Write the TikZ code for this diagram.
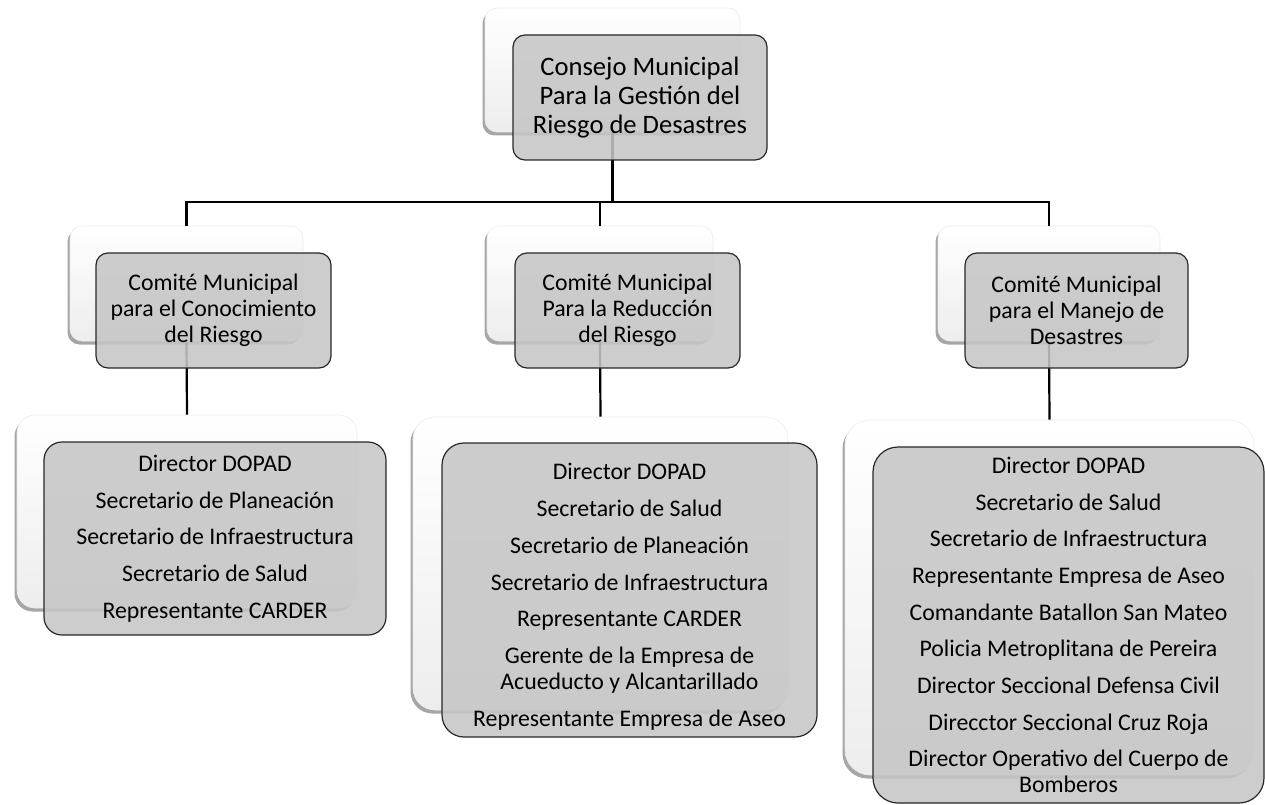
\documentclass[tikz,border=0pt]{standalone}
\usepackage{fontspec}
\setmainfont{Carlito}
\usetikzlibrary{shadows}
\definecolor{boxgray}{RGB}{198,198,198}
\definecolor{edgegray}{RGB}{40,40,40}
\tikzset{
  backbox/.style={shape=rectangle, inner sep=0pt, top color=white, bottom color=black!7,
    draw=black!8, line width=0.6pt,
    drop shadow={shadow xshift=-2.5pt, shadow yshift=-3.5pt, opacity=0.35, fill=black}},
  frontbox/.style={shape=rectangle, inner sep=0pt, fill=boxgray, fill opacity=0.88,
    text opacity=1, draw=edgegray, line width=1.2pt, align=center},
  conn/.style={line width=2.2pt, black},
  headtext/.style={font=\fontsize{26.6}{29}\selectfont},
  comtext/.style={font=\fontsize{23.8}{26}\selectfont},
  listtext/.style={font=\fontsize{23.8}{26}\selectfont},
}
\newcommand{\pgap}{\\[10.7pt]}
\begin{document}
\begin{tikzpicture}[x=1pt, y=-1pt]
\useasboundingbox (0,0) rectangle (1265,805);
\clip (0,0) rectangle (1265,805);

% back cards
\node[backbox, rounded corners=12pt, minimum width=255pt, minimum height=124pt] (tb) at (612.5,70) {};
\node[backbox, rounded corners=12pt, minimum width=233pt, minimum height=115pt] (c1b) at (186.5,283.5) {};
\node[backbox, rounded corners=12pt, minimum width=226pt, minimum height=115pt] (c2b) at (600,283.5) {};
\node[backbox, rounded corners=12pt, minimum width=222pt, minimum height=115pt] (c3b) at (1049,283.5) {};
\node[backbox, rounded corners=18pt, minimum width=340pt, minimum height=193pt] (m1b) at (187,511.5) {};
\node[backbox, rounded corners=22pt, minimum width=375pt, minimum height=293pt] (m2b) at (600.5,563.5) {};
\node[backbox, rounded corners=25pt, minimum width=409pt, minimum height=355pt] (m3b) at (1049.5,597.5) {};

% connectors
\coordinate (bus) at (0,202);
\draw[conn] (tb.south) -- (tb.south |- bus) -| (c1b.north);
\draw[conn] (tb.south |- bus) -| (c3b.north);
\draw[conn] (c2b.north |- bus) -- (c2b.north);
\draw[conn] (c1b.south) -- (m1b.north);
\draw[conn] (c2b.south) -- (m2b.north);
\draw[conn] (c3b.south) -- (m3b.north);

% front cards
\node[frontbox, headtext, rounded corners=12pt, minimum width=254pt, minimum height=125pt] (tf) at (640,97.5)
  {Consejo Municipal\\Para la Gestión del\\Riesgo de Desastres};
\node[frontbox, comtext, rounded corners=12pt, minimum width=235pt, minimum height=115pt] (c1f) at (213.5,310.5)
  {Comité Municipal\\para el Conocimiento\\del Riesgo};
\node[frontbox, comtext, rounded corners=12pt, minimum width=225pt, minimum height=115pt] (c2f) at (627.5,310.5)
  {Comité Municipal\\Para la Reducción\\del Riesgo};
\node[frontbox, comtext, rounded corners=12pt, minimum width=223pt, minimum height=115pt] (c3f) at (1076.5,310.5)
  {Comité Municipal\\para el Manejo de\\Desastres};
\node[frontbox, listtext, rounded corners=18pt, minimum width=342pt, minimum height=193pt] (m1f) at (215,538.5)
  {Director DOPAD\pgap Secretario de Planeación\pgap Secretario de Infraestructura\pgap
   Secretario de Salud\pgap Representante CARDER};
\node[frontbox, listtext, rounded corners=22pt, minimum width=375pt, minimum height=294pt] (m2f) at (629.5,590)
  {\rule{0pt}{30pt}Director DOPAD\pgap Secretario de Salud\pgap Secretario de Planeación\pgap
   Secretario de Infraestructura\pgap Representante CARDER\pgap Gerente de la Empresa de\\
   Acueducto y Alcantarillado\pgap Representante Empresa de Aseo};
\node[frontbox, listtext, rounded corners=25pt, minimum width=391pt, minimum height=356pt] (m3f) at (1068.5,625)
  {Director DOPAD\pgap Secretario de Salud\pgap Secretario de Infraestructura\pgap
   Representante Empresa de Aseo\pgap Comandante Batallon San Mateo\pgap
   Policia Metroplitana de Pereira\pgap Director Seccional Defensa Civil\pgap
   Direcctor Seccional Cruz Roja\pgap Director Operativo del Cuerpo de\\ Bomberos};
\end{tikzpicture}
\end{document}
